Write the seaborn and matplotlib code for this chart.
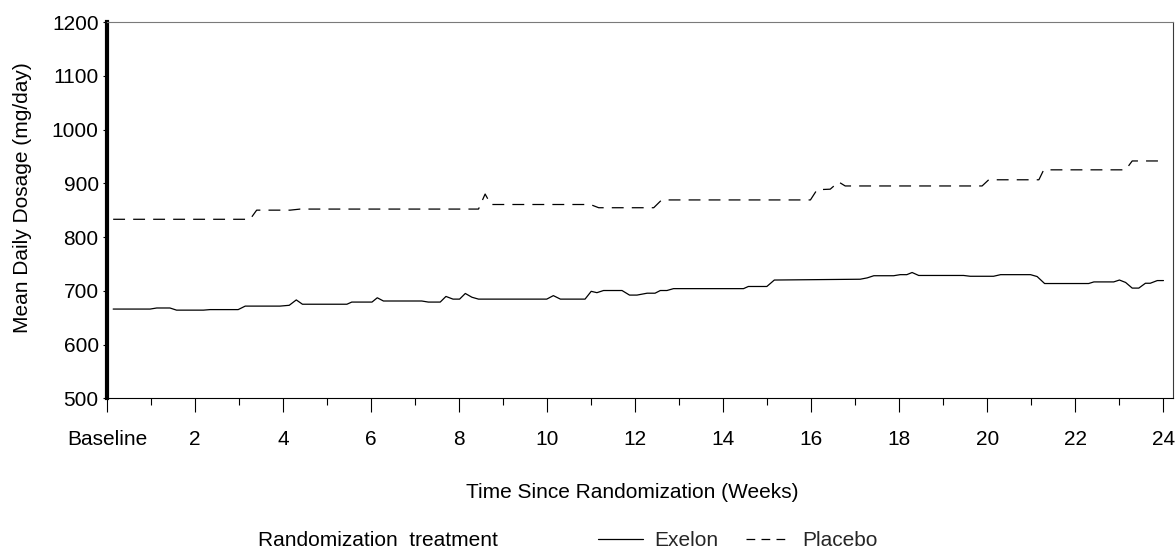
import matplotlib
matplotlib.use("Agg")
import matplotlib.pyplot as plt
import seaborn as sns
import pandas as pd
from matplotlib.lines import Line2D

# ---- data ----
exelon_weeks = [0.14, 0.98, 1.13, 1.43, 1.58, 2.19, 2.34, 2.98, 3.14, 3.93, 4.14, 4.30, 4.44,
                5.45, 5.56, 6.02, 6.14, 6.28, 7.15, 7.30, 7.57, 7.70, 7.86, 8.01, 8.14, 8.29,
                8.44, 9.99, 10.14, 10.30, 10.86, 11.00, 11.13, 11.28, 11.70, 11.87, 12.04,
                12.27, 12.45, 12.57, 12.72, 12.87, 14.46, 14.57, 14.99, 15.16, 17.11, 17.27,
                17.42, 17.87, 18.02, 18.17, 18.29, 18.44, 19.46, 19.61, 20.14, 20.30, 20.98,
                21.13, 21.30, 22.30, 22.42, 22.87, 23.00, 23.14, 23.29, 23.44, 23.59, 23.70,
                23.86, 24.00]
exelon_dose = [666, 666, 668, 668, 664, 664, 665, 665, 671.5, 671.5, 673, 683, 675,
               675, 679, 679, 687, 681, 681, 679, 679, 689.5, 684.5, 684.5, 695, 688,
               684.5, 684.5, 691, 684.5, 684.5, 699, 696.5, 700.5, 700.5, 692, 692,
               695.5, 695.5, 700.5, 700.5, 704, 704, 708, 708, 720, 721.5, 724,
               728, 728, 730, 730, 734, 728.5, 728.5, 727, 727, 730, 730,
               726.5, 713.5, 713.5, 716.5, 716.5, 720, 715.5, 705, 705, 714, 714,
               719, 719]

placebo_weeks = [0.14, 3.25, 3.40, 4.16, 4.39, 8.44, 8.59, 8.72, 10.98, 11.17, 12.42, 12.60,
                 15.98, 16.13, 16.43, 16.62, 16.77, 19.88, 20.03, 21.17, 21.28, 23.14,
                 23.29, 24.00]
placebo_dose = [833, 833, 850, 850, 852, 852, 880, 860.5, 860.5, 854.5, 854.5, 869,
                869, 888, 889, 902.5, 895, 895, 906.5, 906.5, 925, 925,
                941.5, 941.5]

treatments = ["Exelon", "Placebo"]
xtick_values = list(range(0, 25, 2))
xtick_labels = ["Baseline"] + [str(v) for v in xtick_values[1:]]
ytick_values = list(range(500, 1201, 100))

df = pd.concat([
    pd.DataFrame({"week": exelon_weeks, "dose": exelon_dose, "treatment": treatments[0]}),
    pd.DataFrame({"week": placebo_weeks, "dose": placebo_dose, "treatment": treatments[1]}),
], ignore_index=True)

# ---- style ----
sns.set_theme(style="white")
plt.rcParams["font.family"] = ["Liberation Sans", "DejaVu Sans"]
FS = 15
W, H = 1175, 556

fig = plt.figure(figsize=(W / 100, H / 100), dpi=100)
ax = fig.add_axes([107 / W, (H - 398.3) / H, (1172.7 - 107) / W, (398.3 - 22) / H])

dash = (9.5, 6.5)
sns.lineplot(data=df, x="week", y="dose", hue="treatment", style="treatment",
             palette={"Exelon": "black", "Placebo": "black"},
             dashes={"Exelon": "", "Placebo": dash},
             estimator=None, sort=True, linewidth=0.9, ax=ax, legend=False)

ax.set_xlim(0, 24.21)
ax.set_ylim(500, 1200)
ax.set_xticks(xtick_values)
ax.set_xticklabels(xtick_labels)
ax.set_xticks(range(1, 24, 2), minor=True)
ax.set_yticks(ytick_values)

ax.tick_params(axis="x", which="major", direction="out", length=10, width=0.8,
               color="black", pad=13, labelsize=FS, labelcolor="black", bottom=True)
ax.tick_params(axis="x", which="minor", direction="out", length=5, width=0.8,
               color="black", bottom=True)
ax.tick_params(axis="y", which="major", direction="out", length=3, width=0.8,
               color="black", pad=3, labelsize=FS, labelcolor="black", left=True)

for side in ["left", "right", "top", "bottom"]:
    ax.spines[side].set_visible(True)
ax.spines["left"].set_linewidth(3.0)
ax.spines["left"].set_color("black")
ax.spines["bottom"].set_linewidth(0.8)
ax.spines["bottom"].set_color("black")
ax.spines["top"].set_linewidth(0.8)
ax.spines["top"].set_color("#7a7a7a")
ax.spines["right"].set_linewidth(0.8)
ax.spines["right"].set_color("#3a3a3a")

ax.set_xlabel("")
ax.set_ylabel("")
fig.text(22.5 / W, 1 - 198 / H, "Mean Daily Dosage (mg/day)", rotation=90,
         ha="center", va="center", fontsize=FS, color="black")
fig.text(632.5 / W, 1 - 492 / H, "Time Since Randomization (Weeks)",
         ha="center", va="center", fontsize=FS, color="black")

# ---- legend ----
fig.text(258 / W, 1 - 541 / H, "Randomization  treatment",
         ha="left", va="center", fontsize=FS, color="black")
handles = [Line2D([], [], color="black", lw=0.9),
           Line2D([], [], color="black", lw=0.9, dashes=(7, 5))]
fig.legend(handles, treatments, loc="center left",
           bbox_to_anchor=(598 / W, 1 - 541 / H), ncol=2, frameon=False,
           fontsize=FS, handlelength=2.16, handletextpad=0.55, columnspacing=1.3,
           borderpad=0, borderaxespad=0)

fig.savefig("out.png", dpi=100)
